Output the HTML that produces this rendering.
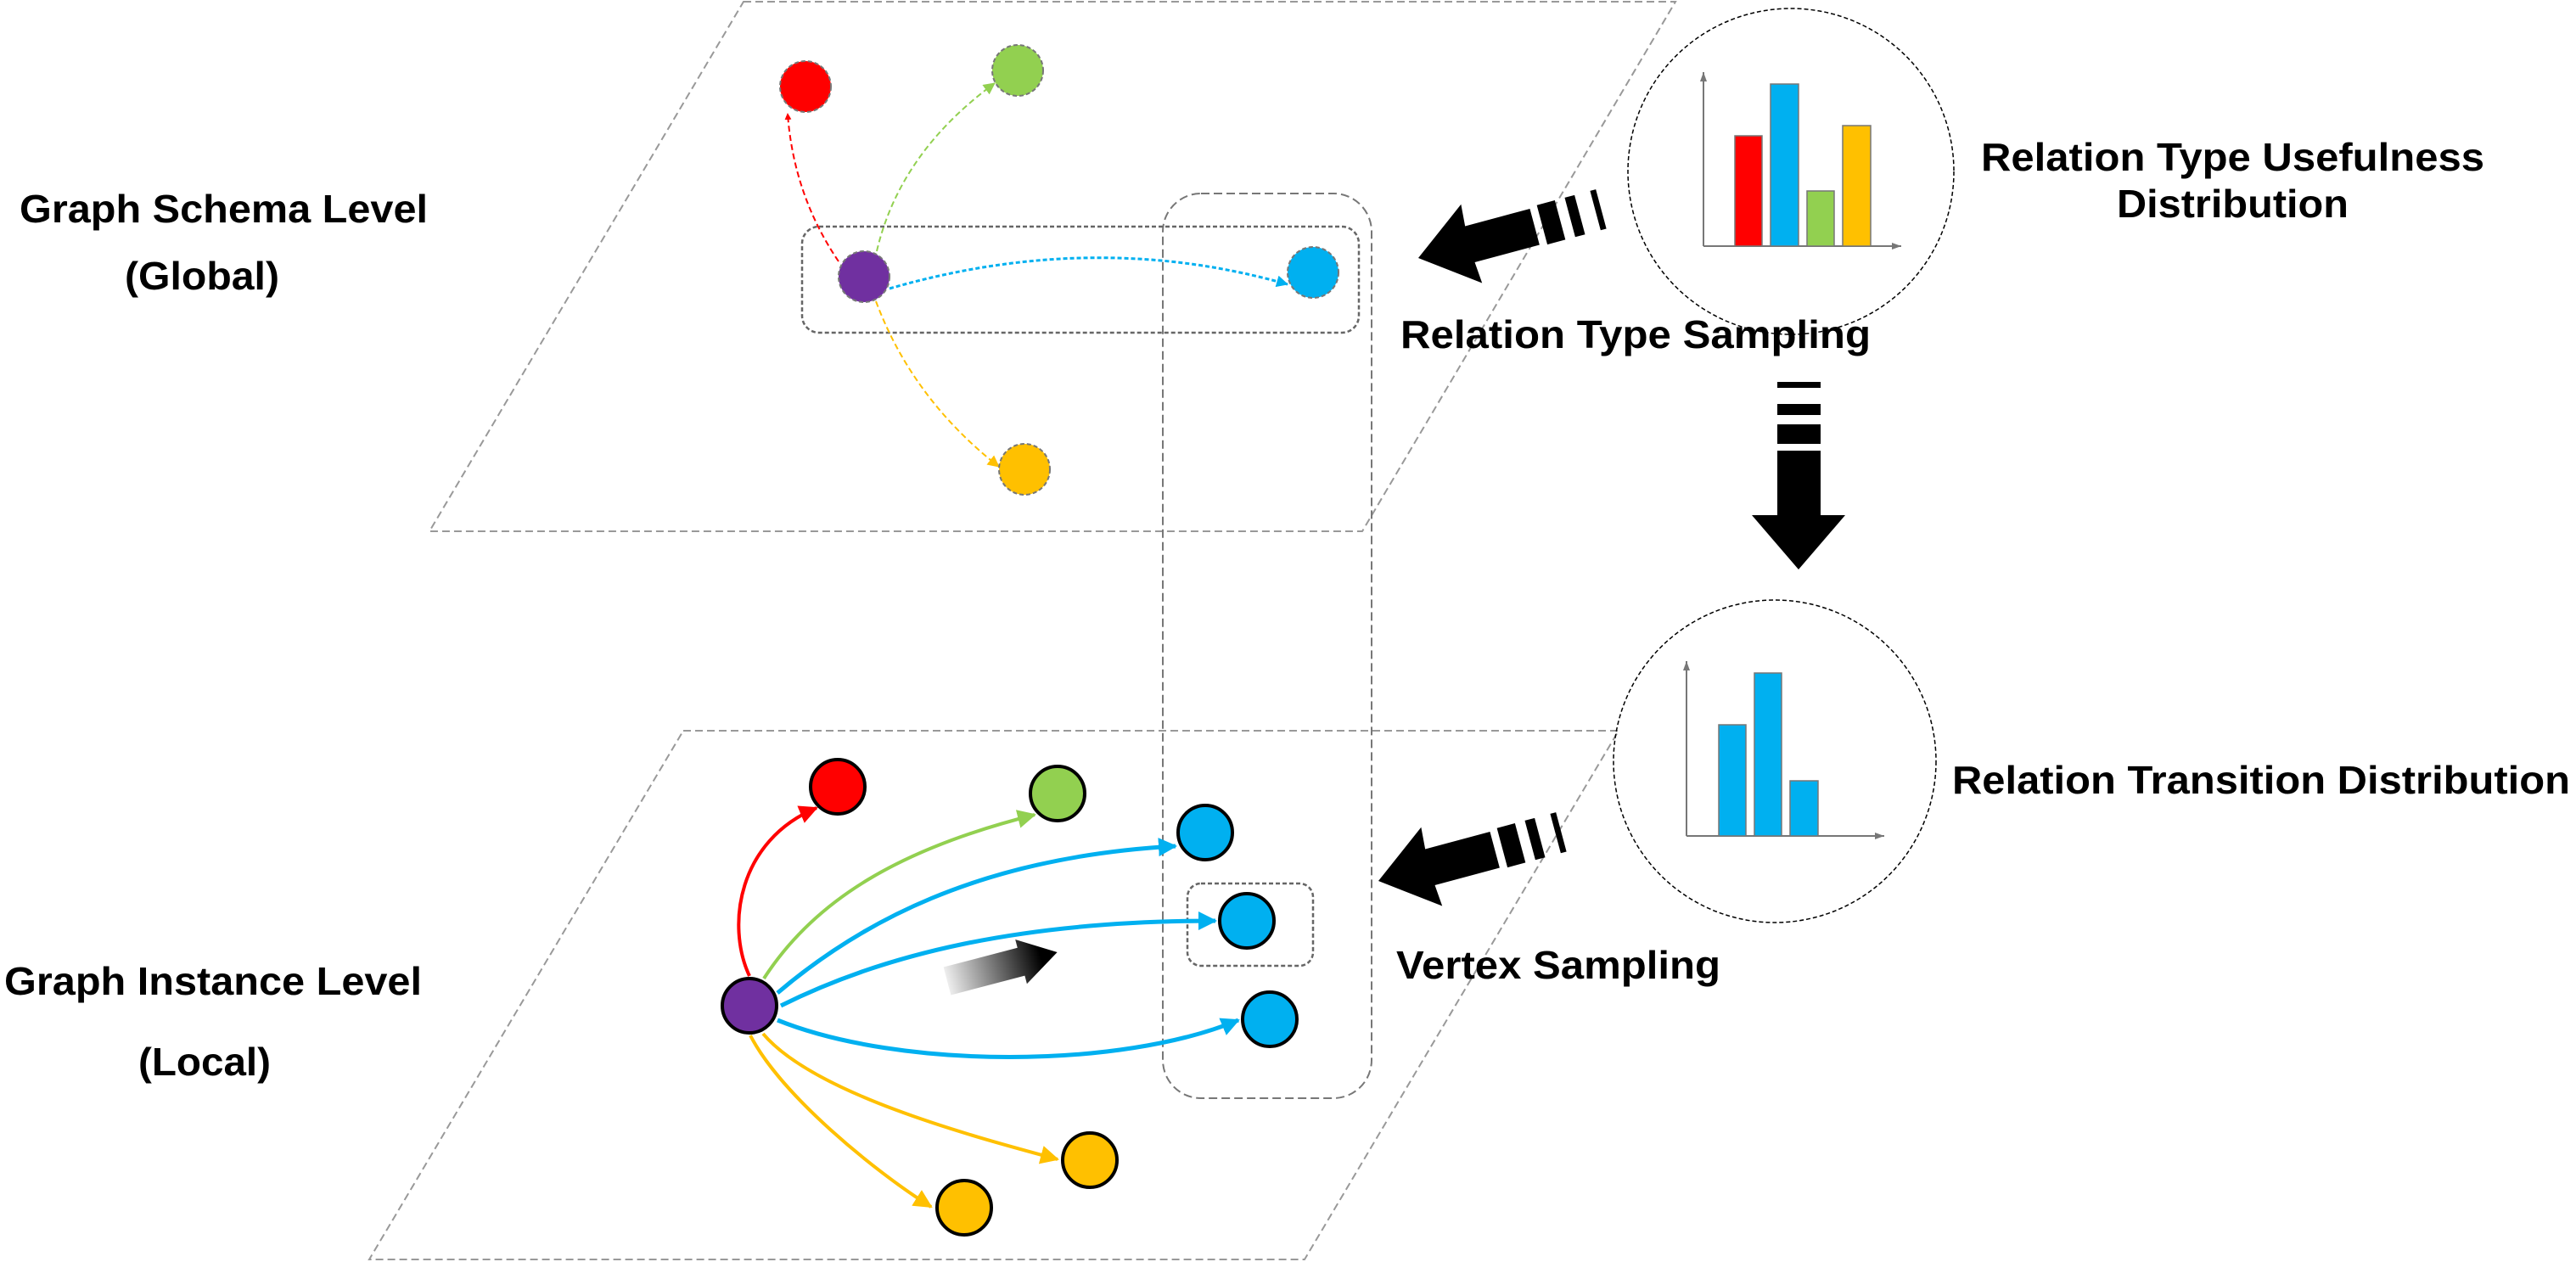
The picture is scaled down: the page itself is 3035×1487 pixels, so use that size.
<!DOCTYPE html>
<html><head><meta charset="utf-8"><style>
html,body{margin:0;padding:0;background:#fff}
svg{display:block}
text{font-family:"Liberation Sans",Arial,sans-serif;font-weight:bold;fill:#000}
</style></head><body>
<svg width="3035" height="1487" viewBox="0 0 3035 1487" xmlns="http://www.w3.org/2000/svg">
<defs>
<marker id="mr" markerWidth="8" markerHeight="8" refX="7" refY="4" orient="auto" markerUnits="userSpaceOnUse" viewBox="0 0 8 8"><path d="M0,0 L8,4 L0,8 z" fill="#f00"/></marker>
<marker id="mg" markerWidth="14" markerHeight="14" refX="13" refY="7" orient="auto" markerUnits="userSpaceOnUse"><path d="M0,0 L14,7 L0,14 z" fill="#92d050"/></marker>
<marker id="mb" markerWidth="14" markerHeight="14" refX="13" refY="7" orient="auto" markerUnits="userSpaceOnUse"><path d="M0,0 L14,7 L0,14 z" fill="#00b0f0"/></marker>
<marker id="my" markerWidth="14" markerHeight="14" refX="13" refY="7" orient="auto" markerUnits="userSpaceOnUse"><path d="M0,0 L14,7 L0,14 z" fill="#ffc000"/></marker>
<marker id="mr2" markerWidth="22" markerHeight="22" refX="20" refY="11" orient="auto" markerUnits="userSpaceOnUse"><path d="M0,0 L22,11 L0,22 z" fill="#f00"/></marker>
<marker id="mg2" markerWidth="22" markerHeight="22" refX="20" refY="11" orient="auto" markerUnits="userSpaceOnUse"><path d="M0,0 L22,11 L0,22 z" fill="#92d050"/></marker>
<marker id="mb2" markerWidth="22" markerHeight="22" refX="20" refY="11" orient="auto" markerUnits="userSpaceOnUse"><path d="M0,0 L22,11 L0,22 z" fill="#00b0f0"/></marker>
<marker id="my2" markerWidth="22" markerHeight="22" refX="20" refY="11" orient="auto" markerUnits="userSpaceOnUse"><path d="M0,0 L22,11 L0,22 z" fill="#ffc000"/></marker>
<marker id="ax" markerWidth="12" markerHeight="12" refX="11" refY="6" orient="auto" markerUnits="userSpaceOnUse"><path d="M0,2 L11,6 L0,10 z" fill="#777"/></marker>
<linearGradient id="gr" x1="0" y1="0" x2="1" y2="0"><stop offset="0" stop-color="#eee"/><stop offset="0.85" stop-color="#000"/></linearGradient>
<g id="bigarrow">
<polygon points="0,0 65,-48 63,-22 142,-22 142,22 63,22 65,48" fill="#000"/>
<rect x="151" y="-24" width="22" height="48" fill="#000"/>
<rect x="185" y="-24" width="12" height="48" fill="#000"/>
<rect x="216" y="-24" width="7" height="48" fill="#000"/>
</g>
</defs>

<polygon points="876,2 1974,2 1605,626 506,626" fill="none" stroke="#999" stroke-width="2" stroke-dasharray="9,5"/>
<polygon points="805,861 1907,861 1537,1484 435,1484" fill="none" stroke="#999" stroke-width="2" stroke-dasharray="9,5"/>

<rect x="1370" y="228" width="246" height="1066" rx="45" fill="none" stroke="#777" stroke-width="2" stroke-dasharray="10,5"/>
<rect x="945" y="267" width="656" height="125" rx="20" fill="none" stroke="#666" stroke-width="2.5" stroke-dasharray="5,3"/>
<rect x="1399" y="1041" width="148" height="97" rx="16" fill="none" stroke="#666" stroke-width="2.5" stroke-dasharray="5,3"/>

<path d="M988,308 Q935,230 928,134" fill="none" stroke="#f00" stroke-width="2" stroke-dasharray="7,4" marker-end="url(#mr)"/>
<path d="M1033,296 Q1060,180 1172,98" fill="none" stroke="#92d050" stroke-width="2" stroke-dasharray="7,4" marker-end="url(#mg)"/>
<path d="M1048,340 Q1290,270 1517,335" fill="none" stroke="#00b0f0" stroke-width="3" stroke-dasharray="5,3" marker-end="url(#mb)"/>
<path d="M1032,355 Q1075,470 1177,550" fill="none" stroke="#ffc000" stroke-width="2" stroke-dasharray="7,4" marker-end="url(#my)"/>

<g stroke="#777" stroke-width="2" stroke-dasharray="5,3">
<circle cx="949" cy="102" r="30" fill="#f00"/>
<circle cx="1199" cy="83" r="30" fill="#92d050"/>
<circle cx="1018" cy="326" r="30" fill="#7030a0"/>
<circle cx="1547" cy="321" r="30" fill="#00b0f0"/>
<circle cx="1207" cy="553" r="30" fill="#ffc000"/>
</g>

<path d="M883,1150 C855,1090 870,990 962,952" fill="none" stroke="#f00" stroke-width="4" marker-end="url(#mr2)"/>
<path d="M900,1153 C960,1060 1060,1000 1219,960" fill="none" stroke="#92d050" stroke-width="4" marker-end="url(#mg2)"/>
<path d="M916,1170 C1010,1090 1150,1010 1385,997" fill="none" stroke="#00b0f0" stroke-width="5" marker-end="url(#mb2)"/>
<path d="M920,1185 C1040,1125 1200,1085 1432,1085" fill="none" stroke="#00b0f0" stroke-width="5" marker-end="url(#mb2)"/>
<path d="M916,1202 C1060,1260 1320,1260 1459,1202" fill="none" stroke="#00b0f0" stroke-width="5" marker-end="url(#mb2)"/>
<path d="M899,1218 C960,1290 1150,1340 1246,1366" fill="none" stroke="#ffc000" stroke-width="4" marker-end="url(#my2)"/>
<path d="M884,1220 C920,1290 1030,1380 1097,1422" fill="none" stroke="#ffc000" stroke-width="4" marker-end="url(#my2)"/>

<g stroke="#000" stroke-width="4">
<circle cx="987" cy="927" r="32" fill="#f00"/>
<circle cx="1246" cy="935" r="32" fill="#92d050"/>
<circle cx="1420" cy="981" r="32" fill="#00b0f0"/>
<circle cx="1469" cy="1085" r="32" fill="#00b0f0"/>
<circle cx="1496" cy="1201" r="32" fill="#00b0f0"/>
<circle cx="883" cy="1185" r="32" fill="#7030a0"/>
<circle cx="1284" cy="1367" r="32" fill="#ffc000"/>
<circle cx="1136" cy="1423" r="32" fill="#ffc000"/>
</g>

<g transform="translate(1116,1156) rotate(-14.7)">
<polygon points="0,-17 90,-17 90,-27 134,0 90,27 90,17 0,17" fill="url(#gr)"/>
</g>

<use href="#bigarrow" transform="translate(1671,304) rotate(-15)"/>
<use href="#bigarrow" transform="translate(1624,1038) rotate(-15)"/>

<rect x="2094" y="450" width="51" height="7" fill="#000"/>
<rect x="2094" y="476" width="51" height="13" fill="#000"/>
<rect x="2094" y="500" width="51" height="23" fill="#000"/>
<rect x="2094" y="531" width="51" height="77" fill="#000"/>
<polygon points="2064,607 2174,607 2119,671" fill="#000"/>

<circle cx="2110" cy="202" r="192" fill="none" stroke="#000" stroke-width="1.5" stroke-dasharray="5,3"/>
<line x1="2007" y1="290" x2="2007" y2="85" stroke="#777" stroke-width="2" marker-end="url(#ax)"/>
<line x1="2007" y1="290" x2="2240" y2="290" stroke="#777" stroke-width="2" marker-end="url(#ax)"/>
<g stroke="#777" stroke-width="1.5">
<rect x="2044" y="160" width="32" height="130" fill="#f00"/>
<rect x="2086" y="99" width="33" height="191" fill="#00b0f0"/>
<rect x="2129" y="225" width="32" height="65" fill="#92d050"/>
<rect x="2171" y="148" width="33" height="142" fill="#ffc000"/>
</g>

<circle cx="2091" cy="897" r="190" fill="none" stroke="#000" stroke-width="1.5" stroke-dasharray="5,3"/>
<line x1="1987" y1="985" x2="1987" y2="779" stroke="#777" stroke-width="2" marker-end="url(#ax)"/>
<line x1="1987" y1="985" x2="2220" y2="985" stroke="#777" stroke-width="2" marker-end="url(#ax)"/>
<g stroke="#777" stroke-width="1.5" fill="#00b0f0">
<rect x="2025" y="854" width="32" height="131"/>
<rect x="2067" y="793" width="32" height="192"/>
<rect x="2109" y="920" width="33" height="65"/>
</g>

<g font-size="46">
<text x="23" y="262" textLength="481" lengthAdjust="spacingAndGlyphs">Graph Schema Level</text>
<text x="147" y="341" textLength="182" lengthAdjust="spacingAndGlyphs">(Global)</text>
<text x="5" y="1172" textLength="492" lengthAdjust="spacingAndGlyphs">Graph Instance Level</text>
<text x="163" y="1267" textLength="156" lengthAdjust="spacingAndGlyphs">(Local)</text>
<text x="1650" y="410" textLength="554" lengthAdjust="spacingAndGlyphs">Relation Type Sampling</text>
<text x="2334" y="201" textLength="593" lengthAdjust="spacingAndGlyphs">Relation Type Usefulness</text>
<text x="2494" y="256" textLength="273" lengthAdjust="spacingAndGlyphs">Distribution</text>
<text x="2300" y="935" textLength="728" lengthAdjust="spacingAndGlyphs">Relation Transition Distribution</text>
<text x="1645" y="1153" textLength="382" lengthAdjust="spacingAndGlyphs">Vertex Sampling</text>
</g>
</svg>
</body></html>
